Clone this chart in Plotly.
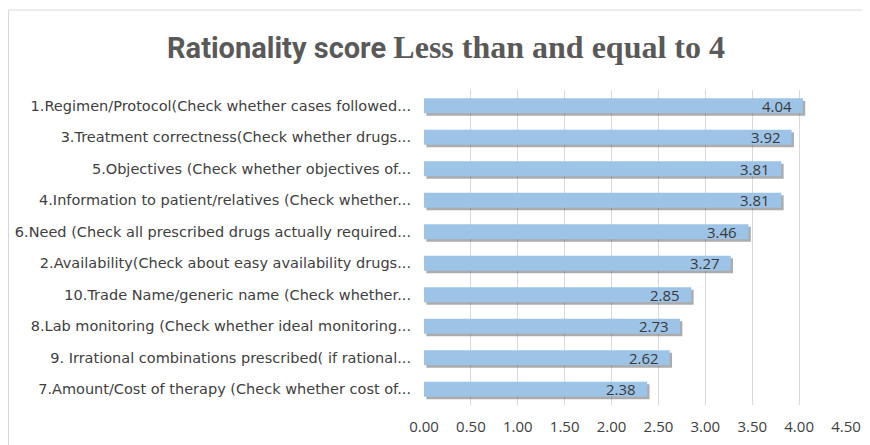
import plotly.graph_objects as go

categories = [
    "1.Regimen/Protocol(Check whether cases followed...",
    "3.Treatment correctness(Check whether drugs...",
    "5.Objectives (Check whether objectives of...",
    "4.Information to patient/relatives (Check whether...",
    "6.Need (Check all prescribed drugs actually required...",
    "2.Availability(Check about easy availability drugs...",
    "10.Trade Name/generic name (Check whether...",
    "8.Lab monitoring (Check whether ideal monitoring...",
    "9. Irrational combinations prescribed( if rational...",
    "7.Amount/Cost of therapy (Check whether cost of...",
]
values = [4.04, 3.92, 3.81, 3.81, 3.46, 3.27, 2.85, 2.73, 2.62, 2.38]
tick_vals = [0, 0.5, 1, 1.5, 2, 2.5, 3, 3.5, 4, 4.5]
tick_text = ["0.00", "0.50", "1.00", "1.50", "2.00", "2.50", "3.00", "3.50", "4.00", "4.50"]

label_font = "DejaVu Sans"
num_font = "Open Sans"
bar_w = 0.48

# page has an 8px body margin, so figure origin sits at (8, 8)
W, H = 862, 437
ML, MR, MT, MB = 416, 24, 82, 40
PW, PH = W - ML - MR, H - MT - MB

fig = go.Figure()
# soft shadow
fig.add_trace(go.Bar(
    y=categories, x=values, orientation="h",
    base=0.025, width=bar_w, offset=-bar_w / 2 + 0.08,
    marker=dict(color="rgba(70,70,70,0.45)", line=dict(width=0)),
    hoverinfo="skip", showlegend=False,
))
fig.add_trace(go.Bar(
    y=categories, x=values, orientation="h",
    width=bar_w, offset=-bar_w / 2,
    marker=dict(color="#9DC3E6", line=dict(width=0)),
    showlegend=False,
))

annotations = [
    dict(x=v, y=c, xref="x", yref="y", text=f"{v:.2f}", showarrow=False,
         xanchor="right", yanchor="middle", xshift=-9,
         font=dict(family=num_font, size=15, color="#3A3A3A"))
    for c, v in zip(categories, values)
]

fig.update_layout(
    width=W, height=H,
    paper_bgcolor="white", plot_bgcolor="white",
    margin=dict(l=ML, r=MR, t=MT, b=MB, autoexpand=False),
    barmode="overlay",
    title=dict(
        text="<b>Rationality score <span style='font-family:Liberation Serif;font-size:32px'>Less than and equal to 4</span></b>",
        x=438 / W, xanchor="center", y=1 - 40 / H, yanchor="middle",
        font=dict(family="Roboto", size=29, color="#595959"),
    ),
    xaxis=dict(
        range=[0, 4.5], tickvals=tick_vals, ticktext=tick_text,
        showgrid=True, gridcolor="#D9D9D9", gridwidth=1,
        zeroline=False, showline=False, ticklabelstandoff=11,
        tickfont=dict(family=num_font, size=15, color="#404040"),
        fixedrange=True,
    ),
    yaxis=dict(
        categoryorder="array", categoryarray=categories, autorange="reversed",
        showgrid=False, zeroline=False, showline=False,
        ticks="", ticklabelstandoff=12,
        tickfont=dict(family=label_font, size=14.5, color="#404040"),
        fixedrange=True,
    ),
    annotations=annotations,
    shapes=[dict(type="rect", xref="paper", yref="paper",
                 x0=(0.5 - ML) / PW, x1=1 + (MR + 20) / PW,
                 y0=-(MB + 20) / PH, y1=1 + (MT - 2) / PH,
                 line=dict(color="#D9D9D9", width=1), layer="below")],
)

fig.write_html("out.html")
